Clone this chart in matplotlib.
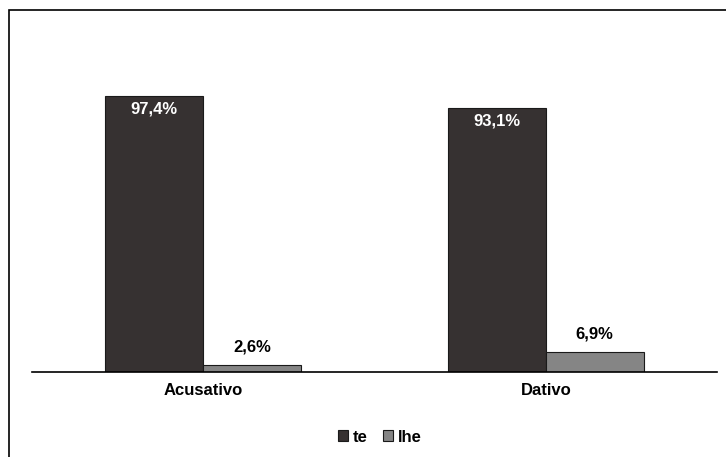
import numpy as np
import matplotlib
matplotlib.use("Agg")
import matplotlib.pyplot as plt
from matplotlib.patches import Rectangle

plt.rcParams['font.family'] = ['Liberation Sans', 'DejaVu Sans']

casos = ['Acusativo', 'Dativo']
te = [97.4, 93.1]
lhe = [2.6, 6.9]

fig = plt.figure(figsize=(7.26, 4.57), dpi=100)
# moldura do gráfico
fig.patches.append(Rectangle((9/726, -0.05), 1.1, 1 - 10/457 + 0.05,
                             transform=fig.transFigure, fill=False,
                             edgecolor='black', linewidth=1.2))

ax = fig.add_axes([32/726, 1 - 372/457, 685/726, 283.4/457])
x = np.arange(len(casos))
w = 0.286
b1 = ax.bar(x - w/2, te, w, color='#363131', edgecolor='#1a1a1a', linewidth=0.8, label='te')
b2 = ax.bar(x + w/2, lhe, w, color='#858585', edgecolor='#1a1a1a', linewidth=0.8, label='lhe')

fs = 12
for r, v in zip(b1, te):
    ax.annotate(f'{v:.1f}%'.replace('.', ','), (r.get_x() + r.get_width()/2, v),
                xytext=(0, -9.5), textcoords='offset points', ha='center', va='center',
                color='white', fontsize=fs, fontweight='bold')
for r, v in zip(b2, lhe):
    ax.annotate(f'{v:.1f}%'.replace('.', ','), (r.get_x() + r.get_width()/2, v),
                xytext=(0, 13), textcoords='offset points', ha='center', va='center',
                color='black', fontsize=fs, fontweight='bold')

ax.set_xlim(-0.5, 1.5)
ax.set_ylim(0, 100)
ax.set_xticks(x)
ax.set_xticklabels(casos, fontsize=fs, fontweight='bold')
ax.tick_params(axis='x', length=0, pad=8)
ax.set_yticks([])
for s in ['top', 'right', 'left']:
    ax.spines[s].set_visible(False)
ax.spines['bottom'].set_linewidth(1.2)

fig.legend(loc='center', bbox_to_anchor=(380/726, 1 - 437/457), ncol=2, frameon=False,
           prop={'weight': 'bold', 'size': fs}, handlelength=0.6, handleheight=0.6,
           handletextpad=0.3, columnspacing=0.9)

fig.savefig('out.png', dpi=100)
